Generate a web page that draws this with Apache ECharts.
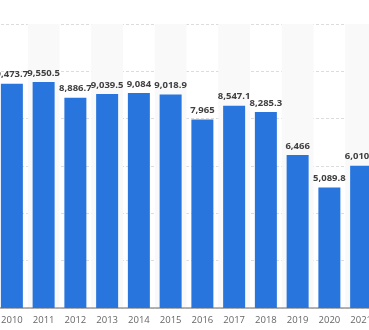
<!DOCTYPE html>
<html>
<head>
<meta charset="utf-8">
<script src="https://cdn.jsdelivr.net/npm/echarts@6/dist/echarts.min.js"></script>
<style>
html,body{margin:0;padding:0;width:369px;height:330px;overflow:hidden;background:#fff;}
#c{position:absolute;left:-4px;top:0;width:381px;height:330px;}
</style>
</head>
<body>
<div id="c"></div>
<script>
var categories = ['2010','2011','2012','2013','2014','2015','2016','2017','2018','2019','2020','2021'];
var values = [9473.7, 9550.5, 8886.7, 9039.5, 9084, 9018.9, 7965, 8547.1, 8285.3, 6466, 5089.8, 6010.4];
var yMax = 12000;
var yInterval = 2000;

var chart = echarts.init(document.getElementById('c'), null, {renderer:'canvas'});
chart.setOption({
  animation:false,
  grid:{left:0,right:0,top:24,bottom:22,containLabel:false},
  xAxis:{
    type:'category',
    data:categories,
    boundaryGap:true,
    axisLine:{show:true,lineStyle:{color:'#9a9a9a',width:1.5}},
    axisTick:{show:false},
    axisLabel:{color:'#666',fontSize:9.5,fontFamily:'Open Sans',margin:7},
    splitArea:{show:true,areaStyle:{color:['rgba(255,255,255,0)','#f9f9f9']}}
  },
  yAxis:{
    type:'value',
    min:0,max:yMax,interval:yInterval,
    axisLabel:{show:false},
    axisLine:{show:false},
    axisTick:{show:false},
    splitLine:{show:true,lineStyle:{color:'#dcdcdc',type:[3,2],width:1}}
  },
  series:[{
    type:'bar',
    data:values,
    barWidth:22,
    z:5,
    itemStyle:{color:'#2876dd'},
    label:{
      show:true,position:'top',distance:4,
      color:'#3f3f3f',fontSize:9.5,fontWeight:'bold',fontFamily:'Open Sans',
      formatter:function(p){return p.value.toLocaleString('en-US',{maximumFractionDigits:1});}
    }
  }]
});
</script>
</body>
</html>
